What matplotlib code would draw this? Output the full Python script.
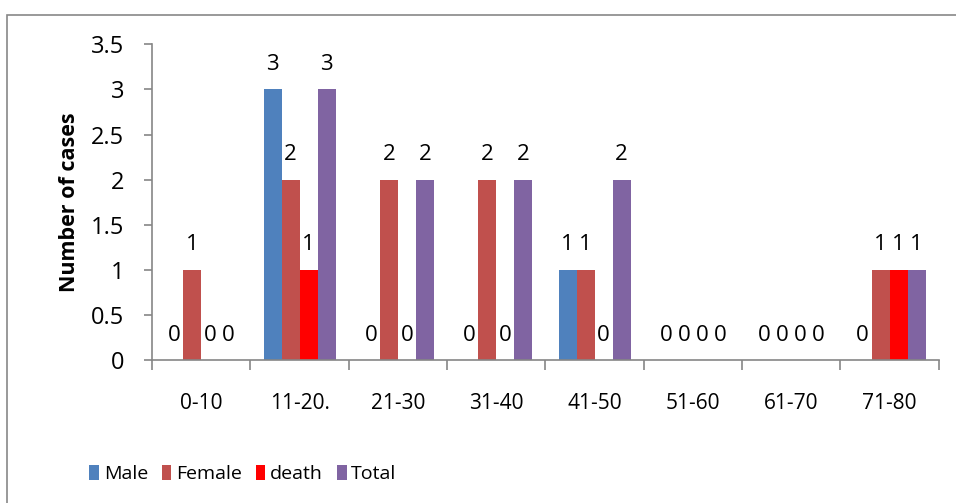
import numpy as np
import matplotlib.pyplot as plt
import matplotlib.patches as patches

plt.rcParams['font.family'] = ['Open Sans', 'DejaVu Sans']

categories = ['0-10', '11-20.', '21-30', '31-40', '41-50', '51-60', '61-70', '71-80']
male = [0, 3, 0, 0, 1, 0, 0, 0]
female = [1, 2, 2, 2, 1, 0, 0, 1]
death = [0, 1, 0, 0, 0, 0, 0, 1]
total = [0, 3, 2, 2, 2, 0, 0, 1]

series = [('Male', male, '#4F81BD'),
          ('Female', female, '#C0504D'),
          ('death', death, '#FF0000'),
          ('Total', total, '#8064A2')]

fig = plt.figure(figsize=(9.56, 5.03), dpi=100)
ax = fig.add_axes([0.159, 0.284, 0.823, 0.628])

# outer chart border (runs off the right and bottom of the picture)
fig.add_artist(patches.Rectangle((7 / 956, -0.1), 1.2, 1 - 15 / 503 + 0.1,
                                 transform=fig.transFigure, fill=False,
                                 edgecolor='#888888', linewidth=1.2))

x = np.arange(len(categories))
w = 0.183
for i, (name, vals, color) in enumerate(series):
    pos = x + (i - 1.5) * w
    ax.bar(pos, vals, width=w, color=color, label=name, zorder=2)
    for xp, v in zip(pos, vals):
        ax.annotate(str(v), (xp, v), xytext=(0, 18), textcoords='offset points',
                    ha='center', va='center', fontsize=16)

ax.set_xlim(-0.5, len(categories) - 0.5)
ax.set_ylim(0, 3.5)
ax.set_yticks(np.arange(0, 3.51, 0.5))
ax.set_yticklabels(['0', '0.5', '1', '1.5', '2', '2.5', '3', '3.5'], fontsize=17)

ax.set_xticks(x)
ax.set_xticklabels(categories, fontsize=15)
ax.set_xticks(np.arange(len(categories) + 1) - 0.5, minor=True)
ax.tick_params(axis='x', which='major', length=0, pad=24)
ax.tick_params(axis='x', which='minor', length=7, color='#868686', width=1.2, direction='out')
ax.tick_params(axis='y', length=6, color='#868686', width=1.2, pad=14)

for s in ['top', 'right']:
    ax.spines[s].set_visible(False)
for s in ['left', 'bottom']:
    ax.spines[s].set_color('#868686')
    ax.spines[s].set_linewidth(1.2)

ax.set_ylabel('Number of cases', fontsize=15.5, fontweight='bold', labelpad=8)

fig.legend(loc='lower left', bbox_to_anchor=(0.075, 0.005), ncol=4, frameon=False,
           fontsize=14, handlelength=0.5, handleheight=0.8, handletextpad=0.25,
           columnspacing=0.7)

fig.savefig('out.png', dpi=100)
